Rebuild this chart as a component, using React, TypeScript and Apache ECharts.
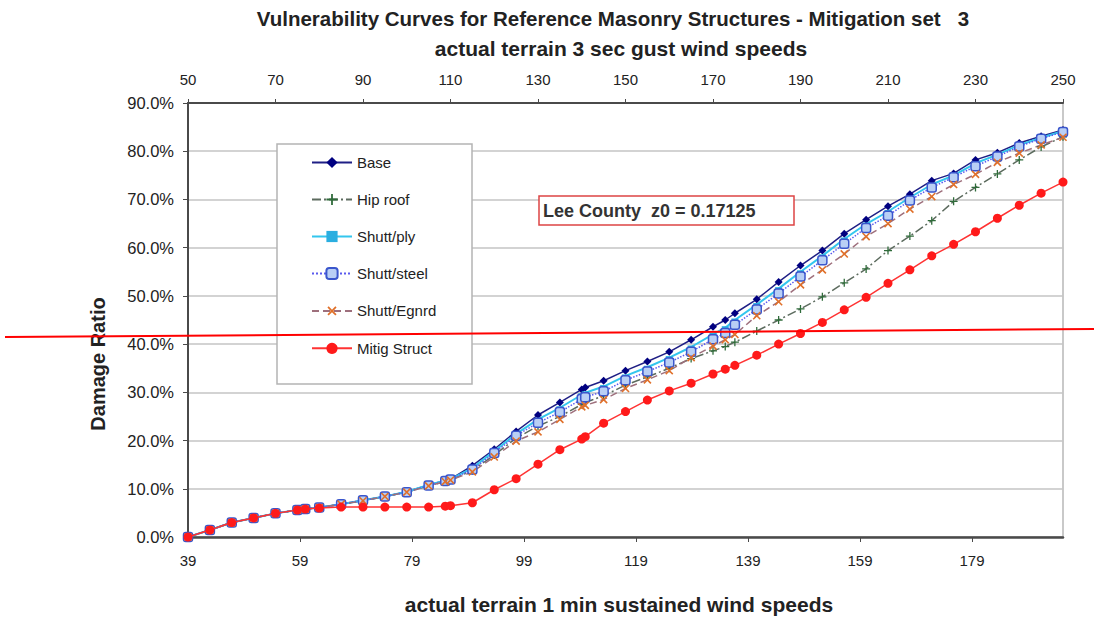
import React, { useEffect, useRef } from 'react';
import * as echarts from 'echarts';

// 3-sec gust wind speeds (top axis) at which each curve is sampled
const gustSpeeds = [50, 55, 60, 65, 70, 75, 76.8, 80, 85, 90, 95, 100, 105, 108.8, 110, 115, 120, 125, 130, 135, 140, 140.8, 145, 150, 155, 160, 165, 170, 172.8, 175, 180, 185, 190, 195, 200, 205, 210, 215, 220, 225, 230, 235, 240, 245, 250];

// Damage ratio (%) per series
const baseValues = [0, 1.45, 3.0, 3.95, 4.9, 5.6, 5.8, 6.1, 6.8, 7.6, 8.4, 9.4, 10.8, 11.7, 12.0, 14.8, 18.2, 21.9, 25.3, 27.9, 30.6, 31.0, 32.4, 34.5, 36.4, 38.4, 40.9, 43.6, 45.0, 46.4, 49.3, 52.9, 56.3, 59.4, 62.9, 65.8, 68.6, 71.1, 73.9, 75.4, 78.2, 79.7, 81.7, 83.1, 84.4];
const hipRoofValues = [0, 1.45, 3.0, 3.95, 4.9, 5.6, 5.8, 6.1, 6.8, 7.5, 8.4, 9.3, 10.6, 11.5, 11.8, 13.8, 17.0, 20.5, 23.0, 25.0, 27.5, 27.9, 29.3, 31.5, 33.2, 35.0, 37.0, 38.6, 39.5, 40.4, 42.7, 45.0, 47.3, 49.8, 52.7, 55.6, 59.4, 62.4, 65.6, 69.6, 72.5, 75.3, 78.2, 80.9, 83.0];
const shuttPlyValues = [0, 1.45, 3.0, 3.95, 4.9, 5.6, 5.8, 6.1, 6.8, 7.6, 8.4, 9.4, 10.8, 11.7, 12.0, 14.3, 17.8, 21.4, 24.4, 26.8, 29.5, 29.9, 31.2, 33.4, 35.2, 37.2, 39.4, 42.0, 43.4, 45.0, 48.2, 51.5, 55.0, 58.3, 61.8, 64.9, 67.5, 70.4, 73.1, 75.0, 77.5, 79.3, 81.3, 82.8, 84.2];
const shuttSteelValues = [0, 1.45, 3.0, 3.95, 4.9, 5.6, 5.8, 6.1, 6.8, 7.6, 8.4, 9.3, 10.7, 11.6, 11.9, 14.0, 17.4, 21.0, 23.7, 25.9, 28.6, 29.0, 30.2, 32.5, 34.3, 36.2, 38.4, 41.0, 42.3, 44.0, 47.2, 50.5, 54.0, 57.4, 60.8, 64.1, 66.6, 69.8, 72.5, 74.6, 76.9, 78.9, 81.0, 82.6, 84.0];
const shuttEgnrdValues = [0, 1.45, 3.0, 3.95, 4.9, 5.6, 5.8, 6.1, 6.8, 7.5, 8.4, 9.3, 10.6, 11.5, 11.8, 13.5, 16.6, 19.9, 21.8, 24.4, 27.0, 27.3, 28.5, 30.8, 32.6, 34.5, 37.2, 39.6, 40.9, 42.0, 45.9, 48.8, 52.3, 55.4, 58.7, 62.3, 65.0, 68.0, 70.6, 73.1, 75.2, 77.7, 79.6, 81.3, 82.9];
const mitigStructValues = [0, 1.45, 3.0, 3.95, 4.9, 5.6, 5.8, 6.0, 6.2, 6.2, 6.2, 6.2, 6.2, 6.4, 6.5, 7.1, 9.8, 12.1, 15.1, 18.1, 20.3, 20.8, 23.6, 26.0, 28.4, 30.3, 31.9, 33.8, 34.8, 35.6, 37.7, 40.0, 42.2, 44.5, 47.1, 49.7, 52.6, 55.4, 58.3, 60.7, 63.3, 66.1, 68.8, 71.3, 73.6];

const seriesNames = ['Base', 'Hip roof', 'Shutt/ply', 'Shutt/steel', 'Shutt/Egnrd', 'Mitig Struct'];

// axis ticks
const topTickValues = [50, 70, 90, 110, 130, 150, 170, 190, 210, 230, 250];
const bottomTickLabels = [39, 59, 79, 99, 119, 139, 159, 179];
const gustToSustained = 1.28;

const titleText = 'Vulnerability Curves for Reference Masonry Structures - Mitigation set   3';
const topAxisTitle = 'actual terrain 3 sec gust wind speeds';
const bottomAxisTitle = 'actual terrain 1 min sustained wind speeds';
const yAxisTitle = 'Damage Ratio';
const noteText = 'Lee County  z0 = 0.17125';

const FONT = "'Liberation Sans', Arial, sans-serif";
const plusPath = 'path://M4.2,0H5.8V4.2H10V5.8H5.8V10H4.2V5.8H0V4.2H4.2Z';

function pairs(values: number[]) {
  return gustSpeeds.map((g, i) => [g, values[i]]);
}

export default function App() {
  const ref = useRef<HTMLDivElement>(null);

  useEffect(() => {
    if (!ref.current) return;
    const chart = echarts.init(ref.current, null, { renderer: 'svg' });
    const bottomMin = topTickValues[0] / gustToSustained;
    const bottomMax = topTickValues[topTickValues.length - 1] / gustToSustained;
    const bottomCustom = bottomTickLabels.map((v) => v + (bottomMin - bottomTickLabels[0]));

    const option: any = {
      animation: false,
      backgroundColor: '#ffffff',
      grid: {
        left: 188,
        top: 103,
        right: 31,
        bottom: 82,
        show: true,
        borderColor: '#b8b8b8',
        borderWidth: 1.5,
        backgroundColor: '#ffffff',
      },
      legend: {
        data: seriesNames,
        orient: 'vertical',
        left: 311,
        top: 155,
        itemWidth: 40,
        itemHeight: 14,
        itemGap: 22,
        padding: 0,
        z: 6,
        textStyle: { fontSize: 15, color: '#222', fontFamily: FONT },
      },
      xAxis: [
        {
          type: 'value',
          position: 'top',
          min: topTickValues[0],
          max: topTickValues[topTickValues.length - 1],
          axisLine: { show: true, onZero: false, lineStyle: { color: '#4a4a4a', width: 2 } },
          axisTick: { show: true, customValues: topTickValues, length: 4, lineStyle: { color: '#4a4a4a' } },
          axisLabel: { customValues: topTickValues, margin: 16, fontSize: 15, color: '#222', fontFamily: FONT },
          splitLine: { show: false },
        },
        {
          type: 'value',
          position: 'bottom',
          min: bottomMin,
          max: bottomMax,
          axisLine: { show: true, onZero: false, lineStyle: { color: '#4a4a4a', width: 2.5 } },
          axisTick: { show: true, customValues: bottomCustom, length: 5, lineStyle: { color: '#4a4a4a' } },
          axisLabel: {
            customValues: bottomCustom,
            margin: 16,
            fontSize: 15,
            color: '#222',
            fontFamily: FONT,
            formatter: (v: number) => String(Math.round(v)),
          },
          splitLine: { show: false },
        },
      ],
      yAxis: {
        type: 'value',
        min: 0,
        max: 90,
        interval: 10,
        axisLine: { show: true, onZero: false, lineStyle: { color: '#4a4a4a', width: 2 } },
        axisTick: { show: true, length: 5, lineStyle: { color: '#4a4a4a' } },
        axisLabel: {
          margin: 14,
          fontSize: 16.5,
          color: '#222',
          fontFamily: FONT,
          formatter: (v: number) => v.toFixed(1) + '%',
        },
        splitLine: { show: true, lineStyle: { color: '#c4c4c4', width: 1.5 } },
      },
      series: [
        {
          name: 'Base',
          type: 'line',
          xAxisIndex: 0,
          data: pairs(baseValues),
          symbol: 'diamond',
          symbolSize: 8,
          lineStyle: { color: '#1f1f85', width: 1.5 },
          itemStyle: { color: '#000080' },
          z: 2,
        },
        {
          name: 'Hip roof',
          type: 'line',
          xAxisIndex: 0,
          data: pairs(hipRoofValues),
          symbol: plusPath,
          symbolSize: 8,
          lineStyle: { color: '#5c6b5e', width: 1.5, type: [9, 3, 2, 3] },
          itemStyle: { color: '#2f6b3a' },
          z: 2,
        },
        {
          name: 'Shutt/ply',
          type: 'line',
          xAxisIndex: 0,
          data: pairs(shuttPlyValues),
          symbol: 'rect',
          symbolSize: [7, 3],
          lineStyle: { color: '#33c6ee', width: 2 },
          itemStyle: { color: '#2aaee0' },
          z: 2,
        },
        {
          name: 'Shutt/steel',
          type: 'line',
          xAxisIndex: 0,
          data: pairs(shuttSteelValues),
          symbol: 'roundRect',
          symbolSize: 9,
          lineStyle: { color: '#5a5aee', width: 1.5, type: 'dotted' },
          itemStyle: { color: '#b9cff5', borderColor: '#3a56cc', borderWidth: 1.5 },
          z: 2,
        },
        {
          name: 'Shutt/Egnrd',
          type: 'line',
          xAxisIndex: 0,
          data: pairs(shuttEgnrdValues),
          symbol: plusPath,
          symbolRotate: 45,
          symbolSize: 10,
          lineStyle: { color: '#9e6f7c', width: 1.5, type: [7, 4] },
          itemStyle: { color: '#e0702a' },
          z: 2,
        },
        {
          name: 'Mitig Struct',
          type: 'line',
          xAxisIndex: 0,
          data: pairs(mitigStructValues),
          symbol: 'circle',
          symbolSize: 9,
          lineStyle: { color: '#ff3333', width: 1.5 },
          itemStyle: { color: '#ff1a1a' },
          z: 3,
        },
      ],
      graphic: [
        {
          type: 'text',
          x: 613,
          y: 18,
          z: 10,
          style: { text: titleText, fill: '#222', fontSize: 20.5, fontWeight: 'bold', fontFamily: FONT, align: 'center', verticalAlign: 'middle' },
        },
        {
          type: 'text',
          x: 621,
          y: 48,
          z: 10,
          style: { text: topAxisTitle, fill: '#222', fontSize: 21, fontWeight: 'bold', fontFamily: FONT, align: 'center', verticalAlign: 'middle' },
        },
        {
          type: 'text',
          x: 619,
          y: 604,
          z: 10,
          style: { text: bottomAxisTitle, fill: '#222', fontSize: 21, fontWeight: 'bold', fontFamily: FONT, align: 'center', verticalAlign: 'middle' },
        },
        {
          type: 'text',
          x: 98,
          y: 364,
          rotation: Math.PI / 2,
          z: 10,
          style: { text: yAxisTitle, fill: '#222', fontSize: 20, fontWeight: 'bold', fontFamily: FONT, align: 'center', verticalAlign: 'middle' },
        },
        {
          type: 'rect',
          z: 4,
          shape: { x: 277, y: 144, width: 195, height: 240 },
          style: { fill: '#ffffff', stroke: '#b4b4b4', lineWidth: 1.5 },
        },
        {
          type: 'rect',
          z: 4,
          shape: { x: 539, y: 196, width: 255, height: 29 },
          style: { fill: '#ffffff', stroke: '#dd4444', lineWidth: 1.5 },
        },
        {
          type: 'text',
          x: 543,
          y: 211,
          z: 5,
          style: { text: noteText, fill: '#333', fontSize: 18, fontWeight: 'bold', fontFamily: FONT, align: 'left', verticalAlign: 'middle' },
        },
        {
          type: 'line',
          z: 100,
          shape: { x1: 5, y1: 337, x2: 1094, y2: 329 },
          style: { stroke: '#ff0000', lineWidth: 2 },
        },
      ],
    };

    chart.setOption(option);
    return () => chart.dispose();
  }, []);

  return (
    <div
      ref={ref}
      style={{ position: 'fixed', left: 0, top: 0, width: 1094, height: 619, background: '#ffffff' }}
    />
  );
}
